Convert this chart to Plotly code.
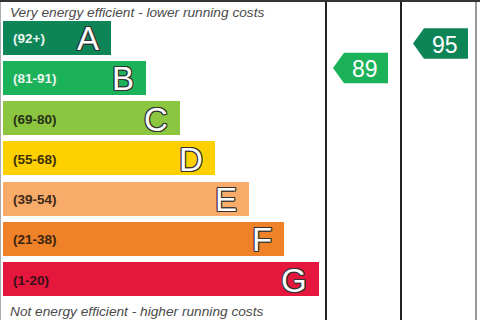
import plotly.graph_objects as go

# ---- data ----
bands = ["A", "B", "C", "D", "E", "F", "G"]
ranges = ["(92+)", "(81-91)", "(69-80)", "(55-68)", "(39-54)", "(21-38)", "(1-20)"]
band_colors = ["#0e8557", "#1cb25a", "#8cc640", "#fed000", "#f9ab69", "#ef8228", "#e5173d"]
range_text_colors = ["#e9f6ef", "#e9f6ef", "#263018", "#3a2f05", "#3a2a1a", "#3a2410", "#3a1018"]
current_score = 89
potential_score = 95
current_band_idx = 1
potential_band_idx = 0
top_caption = "Very energy efficient - lower running costs"
bottom_caption = "Not energy efficient - higher running costs"

# ---- geometry (pixel-space axes) ----
W, H = 480, 320
bar_left = 3
bar_pitch = 40.25
bar_first_center = 37.5
bar_thickness = 34
bar_min_len = 108
bar_step = 34.6

centers = [bar_first_center + bar_pitch * i for i in range(len(bands))]
lengths = [bar_min_len + bar_step * i for i in range(len(bands))]

fig = go.Figure()
fig.add_trace(go.Bar(
    orientation="h", y=centers, x=lengths, base=bar_left, width=bar_thickness,
    marker=dict(color=band_colors, line=dict(width=0)), hoverinfo="skip",
    showlegend=False,
))

annotations = []
outline = "-1px -1px 0 #333, 1px -1px 0 #333, -1px 1px 0 #333, 1px 1px 0 #333, 0 1px 0 #333, 0 -1px 0 #333, 1px 0 0 #333, -1px 0 0 #333"
for i, b in enumerate(bands):
    end = bar_left + lengths[i]
    annotations.append(dict(
        x=end - 10, y=centers[i] + 1, xref="x", yref="y", text=b, showarrow=False,
        xanchor="right", yanchor="middle",
        font=dict(family="Liberation Sans, Arial", size=33, color="white", shadow=outline),
    ))
    annotations.append(dict(
        x=11, y=centers[i] + 1, xref="x", yref="y", text=ranges[i], showarrow=False,
        xanchor="left", yanchor="middle",
        font=dict(family="Liberation Sans, Arial", size=13.5, color=range_text_colors[i], weight="bold"),
    ))

annotations.append(dict(x=8, y=12, xref="x", yref="y", text=top_caption, showarrow=False,
                        xanchor="left", yanchor="middle",
                        font=dict(family="Liberation Sans, Arial", size=13.7, color="#4a4a4a", style="italic")))
annotations.append(dict(x=8, y=311, xref="x", yref="y", text=bottom_caption, showarrow=False,
                        xanchor="left", yanchor="middle",
                        font=dict(family="Liberation Sans, Arial", size=13.7, color="#4a4a4a", style="italic")))

# score arrows: vertical position from score scale
def score_to_y(s):
    return 43.5 + (95 - s) * 4.083

col_edges = [326, 401, 476]
arrow_h = 30.5
tip_w = 11

def add_arrow(score, color, col, body_right):
    yc = score_to_y(score)
    tip_x = col_edges[col] + 7 if col == 0 else col_edges[col] + 12
    xs = [tip_x, tip_x + tip_w, body_right, body_right, tip_x + tip_w, tip_x]
    ys = [yc, yc - arrow_h / 2, yc - arrow_h / 2, yc + arrow_h / 2, yc + arrow_h / 2, yc]
    fig.add_trace(go.Scatter(x=xs, y=ys, fill="toself", fillcolor=color, mode="lines",
                             line=dict(width=0, color=color), hoverinfo="skip", showlegend=False))
    annotations.append(dict(x=(tip_x + tip_w + body_right) / 2 - 1, y=yc + 1, xref="x", yref="y",
                            text=str(score), showarrow=False, xanchor="center", yanchor="middle",
                            font=dict(family="Liberation Sans, Arial", size=23, color="white")))

add_arrow(current_score, band_colors[current_band_idx], 0, 388)
add_arrow(potential_score, band_colors[potential_band_idx], 1, 468)

shapes = [
    dict(type="line", x0=326, x1=326, y0=0, y1=H, xref="x", yref="y", line=dict(color="#222", width=2)),
    dict(type="line", x0=401, x1=401, y0=0, y1=H, xref="x", yref="y", line=dict(color="#222", width=2)),
    dict(type="line", x0=476, x1=476, y0=0, y1=H, xref="x", yref="y", line=dict(color="#777", width=1.5)),
    dict(type="line", x0=0.5, x1=0.5, y0=0, y1=H, xref="x", yref="y", line=dict(color="#aaa", width=1)),
    dict(type="line", x0=0, x1=W, y0=1, y1=1, xref="x", yref="y", line=dict(color="#333", width=2)),
]

fig.update_layout(
    width=W, height=H, margin=dict(l=0, r=0, t=0, b=0),
    paper_bgcolor="white", plot_bgcolor="white",
    xaxis=dict(range=[0, W], visible=False, fixedrange=True),
    yaxis=dict(range=[H, 0], visible=False, fixedrange=True),
    annotations=annotations, shapes=shapes, bargap=0,
)

fig.write_html("out.html")
